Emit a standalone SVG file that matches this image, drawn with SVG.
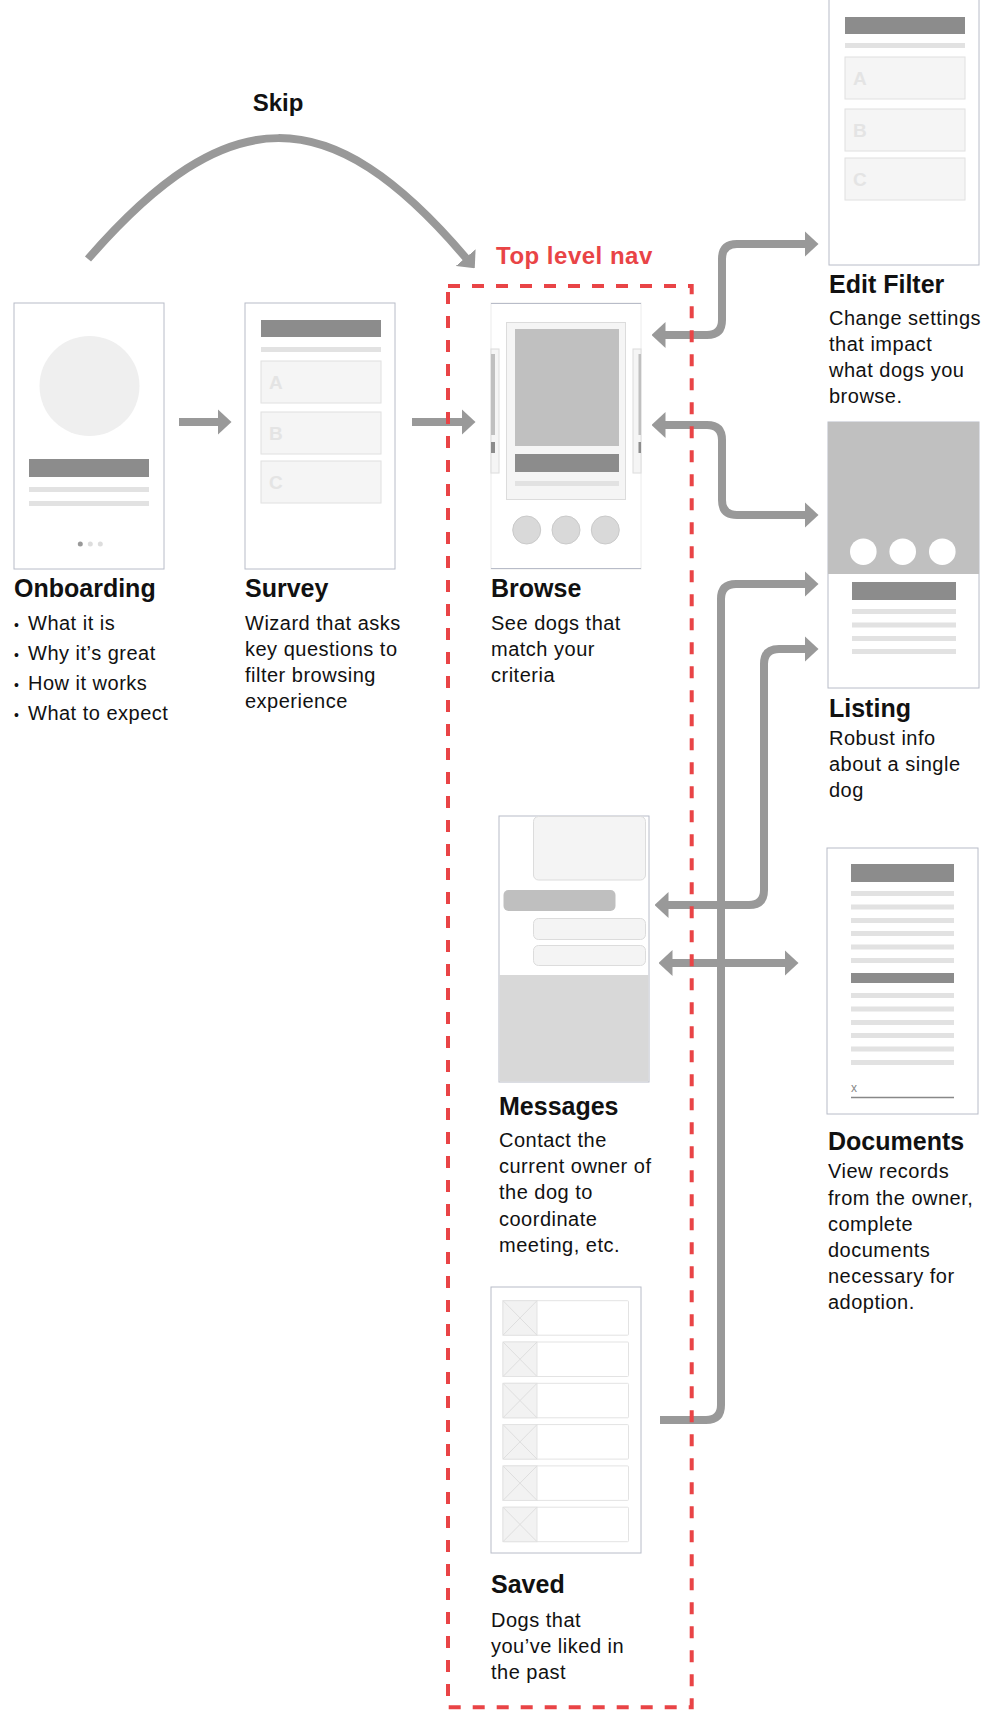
<svg xmlns="http://www.w3.org/2000/svg" width="992" height="1729" viewBox="0 0 992 1729">
<defs>
<style>
.frame{fill:#fff;stroke:#b8bcc8;stroke-width:1}
.dark{fill:#8c8c8c}
.light{fill:#e2e2e2}
.opt{fill:#f5f5f5;stroke:#e0e0e0;stroke-width:1}
.optl{font-family:"Liberation Sans",Arial,sans-serif;font-weight:bold;font-size:19px;fill:#e4e4e4}
.h{font-family:"Liberation Sans",Arial,sans-serif;font-weight:bold;font-size:25px;fill:#111}
.d{font-family:"Liberation Sans",Arial,sans-serif;font-size:20px;fill:#111;letter-spacing:0.5px}
.conn{fill:none;stroke:#999;stroke-width:8}
.bub{fill:#f4f4f4;stroke:#dcdcdc;stroke-width:1}
.row{fill:#fff;stroke:#e3e3e3;stroke-width:1}
.thumb{fill:#f2f2f2;stroke:#e3e3e3;stroke-width:1}
.x{stroke:#dedede;stroke-width:1}
</style>
<marker id="ah" viewBox="0 0 14 26" markerWidth="14" markerHeight="26" refX="0.5" refY="13" orient="auto-start-reverse" markerUnits="userSpaceOnUse">
<path d="M0,0 L14,13 L0,26 z" fill="#999"/>
</marker>
</defs>

<g id="connectors">
<path class="conn" d="M88,259 C228,98 330,98 466,258" marker-end="url(#ah)"/>
<path class="conn" d="M179,422 H218" marker-end="url(#ah)"/>
<path class="conn" d="M412,422 H462" marker-end="url(#ah)"/>
<path class="conn" d="M665,335 H707 Q722,335 722,320 V259 Q722,244 737,244 H805" marker-start="url(#ah)" marker-end="url(#ah)"/>
<path class="conn" d="M665,425 H707 Q722,425 722,440 V500 Q722,515 737,515 H805" marker-start="url(#ah)" marker-end="url(#ah)"/>
<path class="conn" d="M660,1420 H706 Q721,1420 721,1405 V599 Q721,584 736,584 H805" marker-end="url(#ah)"/>
<path class="conn" d="M668,905 H749 Q764,905 764,890 V664 Q764,649 779,649 H805" marker-start="url(#ah)" marker-end="url(#ah)"/>
<path class="conn" d="M672,963 H785" marker-start="url(#ah)" marker-end="url(#ah)"/>
<text x="278" y="111" text-anchor="middle" style="font-family:'Liberation Sans',Arial,sans-serif;font-weight:bold;font-size:24px;fill:#111">Skip</text>
</g>

<g id="onboarding">
<rect class="frame" x="14" y="303" width="150" height="266"/>
<circle cx="89.5" cy="386" r="50" fill="#efefef"/>
<rect class="dark" x="29" y="459" width="120" height="18"/>
<rect class="light" x="29" y="487" width="120" height="5"/>
<rect class="light" x="29" y="501" width="120" height="5"/>
<circle cx="80.3" cy="544" r="2.5" fill="#999"/>
<circle cx="90.3" cy="544" r="2.5" fill="#ddd"/>
<circle cx="100.3" cy="544" r="2.5" fill="#ddd"/>
<text class="h" x="14" y="597">Onboarding</text>
<text class="d" y="630"><tspan x="14" font-size="14">•</tspan><tspan x="28">What it is</tspan></text>
<text class="d" y="660"><tspan x="14" font-size="14">•</tspan><tspan x="28">Why it’s great</tspan></text>
<text class="d" y="690"><tspan x="14" font-size="14">•</tspan><tspan x="28">How it works</tspan></text>
<text class="d" y="720"><tspan x="14" font-size="14">•</tspan><tspan x="28">What to expect</tspan></text>
</g>

<g id="survey">
<rect class="frame" x="245" y="303" width="150" height="266"/>
<rect class="dark" x="261" y="320" width="120" height="17"/>
<rect class="light" x="261" y="347" width="120" height="5"/>
<rect class="opt" x="261" y="361" width="120" height="42"/>
<rect class="opt" x="261" y="412" width="120" height="42"/>
<rect class="opt" x="261" y="461" width="120" height="42"/>
<text class="optl" x="269" y="389">A</text>
<text class="optl" x="269" y="440">B</text>
<text class="optl" x="269" y="489">C</text>
<text class="h" x="245" y="597">Survey</text>
<text class="d" x="245" y="630">Wizard that asks</text>
<text class="d" x="245" y="656">key questions to</text>
<text class="d" x="245" y="682">filter browsing</text>
<text class="d" x="245" y="708">experience</text>
</g>

<g id="browse">
<rect x="491" y="303" width="150" height="266" fill="#fff" stroke="#ececec" stroke-width="1"/>
<line x1="491" y1="303.5" x2="641" y2="303.5" stroke="#b8bcc8" stroke-width="1"/>
<line x1="491" y1="568.5" x2="641" y2="568.5" stroke="#b8bcc8" stroke-width="1"/>
<rect x="491" y="349" width="8" height="124" fill="#f5f5f5" stroke="#dcdcdc" stroke-width="1"/>
<rect x="491" y="354" width="4" height="81" fill="#c0c0c0"/>
<rect x="491" y="442" width="4" height="11" fill="#8c8c8c"/>
<rect x="633" y="349" width="8" height="124" fill="#f5f5f5" stroke="#dcdcdc" stroke-width="1"/>
<rect x="638.5" y="354" width="2.5" height="81" fill="#c0c0c0"/>
<rect x="638.5" y="442" width="2.5" height="11" fill="#8c8c8c"/>
<rect x="506.5" y="322.5" width="119" height="177" fill="#f5f5f5" stroke="#dcdcdc" stroke-width="1"/>
<rect x="515" y="329" width="104" height="117" fill="#c0c0c0"/>
<rect class="dark" x="515" y="454" width="104" height="18"/>
<rect class="light" x="515" y="481" width="104" height="5"/>
<circle cx="526.7" cy="530" r="14" fill="#d9d9d9" stroke="#cacaca" stroke-width="1"/>
<circle cx="566" cy="530" r="14" fill="#d9d9d9" stroke="#cacaca" stroke-width="1"/>
<circle cx="605.3" cy="530" r="14" fill="#d9d9d9" stroke="#cacaca" stroke-width="1"/>
<text class="h" x="491" y="597">Browse</text>
<text class="d" x="491" y="630">See dogs that</text>
<text class="d" x="491" y="656">match your</text>
<text class="d" x="491" y="682">criteria</text>
</g>

<g id="edit-filter">
<rect class="frame" x="829" y="-1" width="150" height="266"/>
<rect class="dark" x="845" y="17" width="120" height="17"/>
<rect class="light" x="845" y="43" width="120" height="5"/>
<rect class="opt" x="845" y="57" width="120" height="42"/>
<rect class="opt" x="845" y="109" width="120" height="42"/>
<rect class="opt" x="845" y="158" width="120" height="42"/>
<text class="optl" x="853" y="85">A</text>
<text class="optl" x="853" y="137">B</text>
<text class="optl" x="853" y="186">C</text>
<text class="h" x="829" y="293">Edit Filter</text>
<text class="d" x="829" y="325">Change settings</text>
<text class="d" x="829" y="351">that impact</text>
<text class="d" x="829" y="377">what dogs you</text>
<text class="d" x="829" y="403">browse.</text>
</g>

<g id="listing">
<rect class="frame" x="828" y="422" width="151" height="266"/>
<rect x="828" y="422" width="151" height="152" fill="#c0c0c0"/>
<circle cx="863.3" cy="551.7" r="13.3" fill="#fff"/>
<circle cx="902.7" cy="551.7" r="13.3" fill="#fff"/>
<circle cx="942.3" cy="551.7" r="13.3" fill="#fff"/>
<rect class="dark" x="852" y="582" width="104" height="18"/>
<rect class="light" x="852" y="609" width="104" height="5"/>
<rect class="light" x="852" y="622.5" width="104" height="5"/>
<rect class="light" x="852" y="636" width="104" height="5"/>
<rect class="light" x="852" y="649" width="104" height="5"/>
<text class="h" x="829" y="717">Listing</text>
<text class="d" x="829" y="745">Robust info</text>
<text class="d" x="829" y="771">about a single</text>
<text class="d" x="829" y="797">dog</text>
</g>

<g id="messages">
<rect class="frame" x="499" y="816" width="150" height="266"/>
<rect x="499.5" y="975" width="149" height="106.5" fill="#d8d8d8"/>
<rect class="bub" x="533.5" y="816.5" width="112" height="63.5" rx="5"/>
<rect x="503.5" y="890" width="112" height="21" rx="5" fill="#bfbfbf"/>
<rect class="bub" x="533.5" y="918.5" width="112" height="21" rx="5"/>
<rect class="bub" x="533.5" y="945.5" width="112" height="20" rx="5"/>
<text class="h" x="499" y="1115">Messages</text>
<text class="d" x="499" y="1147">Contact the</text>
<text class="d" x="499" y="1173">current owner of</text>
<text class="d" x="499" y="1199">the dog to</text>
<text class="d" x="499" y="1226">coordinate</text>
<text class="d" x="499" y="1252">meeting, etc.</text>
</g>

<g id="documents">
<rect class="frame" x="827" y="848" width="151" height="266"/>
<rect class="dark" x="851" y="864" width="103" height="18"/>
<rect class="light" x="851" y="891" width="103" height="5"/>
<rect class="light" x="851" y="904.5" width="103" height="5"/>
<rect class="light" x="851" y="918" width="103" height="5"/>
<rect class="light" x="851" y="931" width="103" height="5"/>
<rect class="light" x="851" y="944.5" width="103" height="5"/>
<rect class="light" x="851" y="958" width="103" height="5"/>
<rect class="dark" x="851" y="973" width="103" height="10"/>
<rect class="light" x="851" y="993" width="103" height="5"/>
<rect class="light" x="851" y="1006.5" width="103" height="5"/>
<rect class="light" x="851" y="1020" width="103" height="5"/>
<rect class="light" x="851" y="1033" width="103" height="5"/>
<rect class="light" x="851" y="1046.5" width="103" height="5"/>
<rect class="light" x="851" y="1060" width="103" height="5"/>
<text x="851" y="1092" style="font-family:'Liberation Sans',Arial,sans-serif;font-size:12px;fill:#888">x</text>
<line x1="851" y1="1097.5" x2="954" y2="1097.5" stroke="#888" stroke-width="1.5"/>
<text class="h" x="828" y="1150">Documents</text>
<text class="d" x="828" y="1178">View records</text>
<text class="d" x="828" y="1205">from the owner,</text>
<text class="d" x="828" y="1231">complete</text>
<text class="d" x="828" y="1257">documents</text>
<text class="d" x="828" y="1283">necessary for</text>
<text class="d" x="828" y="1309">adoption.</text>
</g>

<g id="saved">
<rect class="frame" x="491" y="1287" width="150" height="266"/>
<g>
<rect class="row" x="503" y="1300.7" width="125.5" height="34.5" rx="1"/><rect class="thumb" x="503" y="1300.7" width="34" height="34.5"/><path class="x" d="M503,1300.7 L537,1335.2 M537,1300.7 L503,1335.2"/>
<rect class="row" x="503" y="1342" width="125.5" height="34.5" rx="1"/><rect class="thumb" x="503" y="1342" width="34" height="34.5"/><path class="x" d="M503,1342 L537,1376.5 M537,1342 L503,1376.5"/>
<rect class="row" x="503" y="1383.3" width="125.5" height="34.5" rx="1"/><rect class="thumb" x="503" y="1383.3" width="34" height="34.5"/><path class="x" d="M503,1383.3 L537,1417.8 M537,1383.3 L503,1417.8"/>
<rect class="row" x="503" y="1424.6" width="125.5" height="34.5" rx="1"/><rect class="thumb" x="503" y="1424.6" width="34" height="34.5"/><path class="x" d="M503,1424.6 L537,1459.1 M537,1424.6 L503,1459.1"/>
<rect class="row" x="503" y="1465.9" width="125.5" height="34.5" rx="1"/><rect class="thumb" x="503" y="1465.9" width="34" height="34.5"/><path class="x" d="M503,1465.9 L537,1500.4 M537,1465.9 L503,1500.4"/>
<rect class="row" x="503" y="1507.2" width="125.5" height="34.5" rx="1"/><rect class="thumb" x="503" y="1507.2" width="34" height="34.5"/><path class="x" d="M503,1507.2 L537,1541.7 M537,1507.2 L503,1541.7"/>
</g>
<text class="h" x="491" y="1593">Saved</text>
<text class="d" x="491" y="1627">Dogs that</text>
<text class="d" x="491" y="1653">you’ve liked in</text>
<text class="d" x="491" y="1679">the past</text>
</g>

<g id="top-level-nav">
<rect x="448" y="286" width="243.7" height="1421.3" fill="none" stroke="#e94446" stroke-width="4" stroke-dasharray="12 12"/>
<text x="496" y="264" style="font-family:'Liberation Sans',Arial,sans-serif;font-weight:bold;font-size:24px;fill:#e94446;letter-spacing:0.5px">Top level nav</text>
</g>
</svg>
